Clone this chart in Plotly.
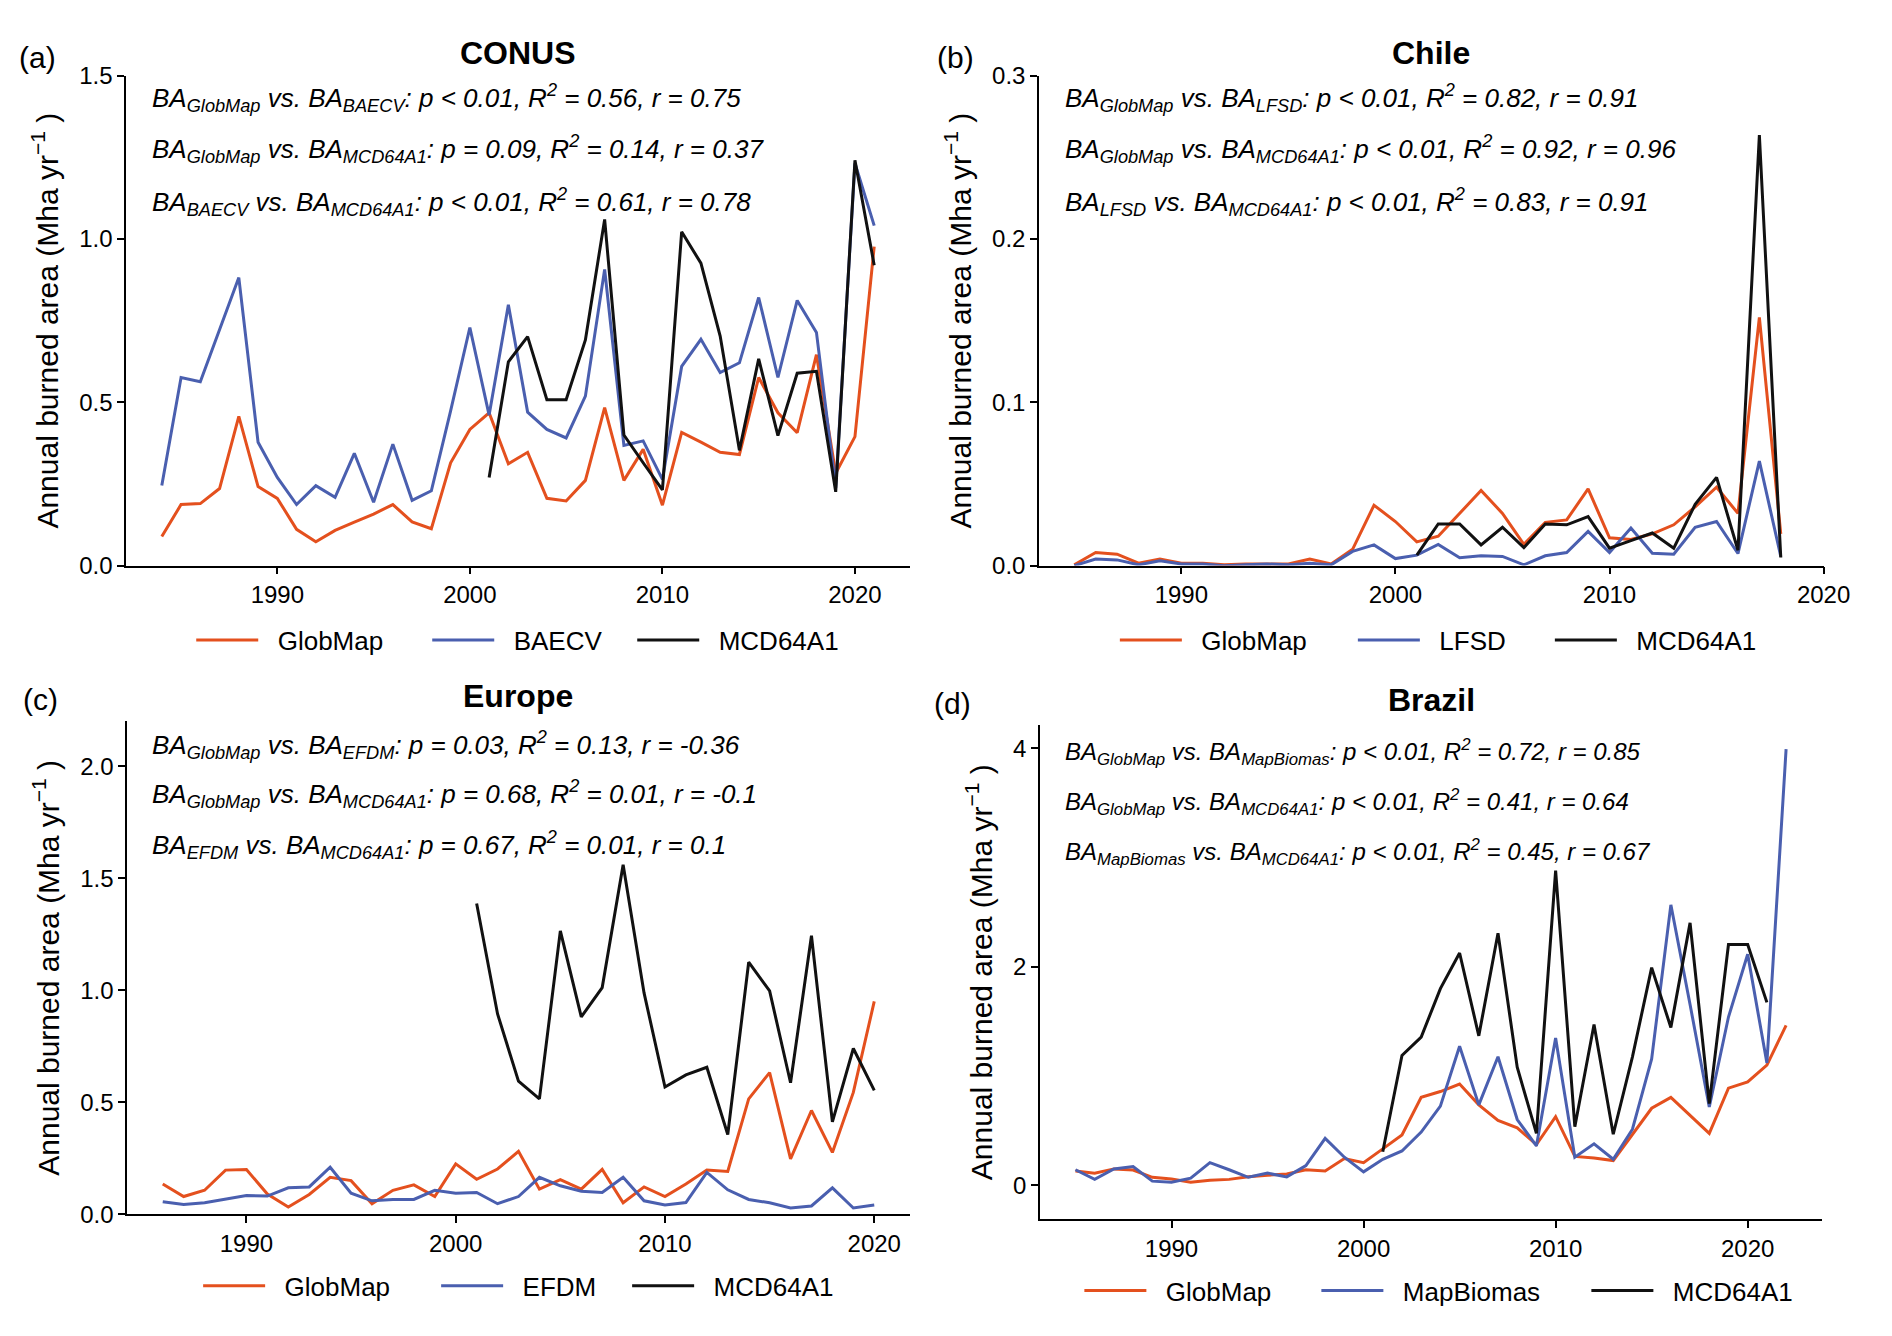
import plotly.graph_objects as go
from plotly.subplots import make_subplots

# ---- data ----
conus_years = list(range(1984, 2022))
conus_globmap = [0.089, 0.187, 0.19, 0.236, 0.457, 0.242, 0.206, 0.111, 0.073, 0.108,
                 0.133, 0.158, 0.187, 0.134, 0.113, 0.315, 0.417, 0.468, 0.312, 0.347,
                 0.206, 0.198, 0.261, 0.484, 0.261, 0.356, 0.185, 0.408, 0.378, 0.347,
                 0.340, 0.576, 0.468, 0.407, 0.646, 0.283, 0.395, 0.977]
conus_baecv = [0.245, 0.576, 0.563, 0.723, 0.882, 0.378, 0.270, 0.187, 0.245, 0.209,
               0.344, 0.194, 0.372, 0.200, 0.229, 0.474, 0.729, 0.461, 0.799, 0.470,
               0.417, 0.391, 0.519, 0.907, 0.368, 0.382, 0.264, 0.610, 0.693, 0.591,
               0.621, 0.821, 0.576, 0.812, 0.714, 0.238, 1.232, 1.041]
conus_mcd_years = list(range(2001, 2022))
conus_mcd = [0.270, 0.624, 0.701, 0.508, 0.508, 0.691, 1.060, 0.400, 0.315, 0.232,
             1.022, 0.926, 0.703, 0.353, 0.633, 0.398, 0.589, 0.595, 0.226, 1.241, 0.920]

chile_years = list(range(1985, 2019))
chile_globmap = [0.0005, 0.008, 0.007, 0.0015, 0.004, 0.0015, 0.0015, 0.0005, 0.001, 0.001,
                 0.001, 0.004, 0.001, 0.010, 0.037, 0.027, 0.0145, 0.018, 0.032, 0.046,
                 0.032, 0.013, 0.0265, 0.028, 0.047, 0.017, 0.016, 0.0195, 0.025, 0.036,
                 0.048, 0.032, 0.152, 0.0195]
chile_lfsd = [0.0, 0.004, 0.0035, 0.0005, 0.003, 0.001, 0.001, 0.0, 0.0005, 0.001,
              0.0005, 0.0015, 0.0005, 0.0087, 0.0127, 0.0043, 0.0064, 0.013, 0.0048, 0.006,
              0.0056, 0.0005, 0.006, 0.008, 0.021, 0.008, 0.023, 0.0076, 0.007, 0.0235,
              0.027, 0.0074, 0.064, 0.0056]
chile_mcd_years = list(range(2001, 2019))
chile_mcd = [0.0064, 0.0255, 0.0255, 0.0127, 0.0235, 0.011, 0.0255, 0.025, 0.030, 0.0107,
             0.0153, 0.020, 0.0107, 0.0375, 0.054, 0.0094, 0.2636, 0.005]

europe_years = list(range(1986, 2021))
europe_globmap = [0.135, 0.079, 0.107, 0.197, 0.2, 0.09, 0.032, 0.088, 0.165, 0.15,
                  0.047, 0.107, 0.131, 0.079, 0.225, 0.156, 0.202, 0.281, 0.112, 0.154,
                  0.112, 0.2, 0.051, 0.122, 0.079, 0.135, 0.197, 0.191, 0.515, 0.632,
                  0.247, 0.463, 0.276, 0.544, 0.950]
europe_efdm = [0.056, 0.043, 0.051, 0.066, 0.084, 0.081, 0.118, 0.122, 0.21, 0.094,
               0.06, 0.066, 0.066, 0.107, 0.094, 0.097, 0.047, 0.079, 0.165, 0.127,
               0.103, 0.097, 0.165, 0.06, 0.041, 0.052, 0.187, 0.109, 0.066, 0.051,
               0.028, 0.037, 0.118, 0.028, 0.041]
europe_mcd_years = list(range(2001, 2021))
europe_mcd = [1.387, 0.894, 0.594, 0.515, 1.265, 0.881, 1.012, 1.56, 0.988, 0.568,
              0.622, 0.656, 0.356, 1.125, 0.997, 0.587, 1.243, 0.412, 0.74, 0.553]

brazil_years = list(range(1985, 2023))
brazil_globmap = [0.13, 0.11, 0.15, 0.14, 0.073, 0.057, 0.027, 0.046, 0.054, 0.077,
                  0.092, 0.103, 0.142, 0.13, 0.245, 0.207, 0.333, 0.46, 0.805, 0.858,
                  0.927, 0.736, 0.594, 0.525, 0.372, 0.628, 0.264, 0.249, 0.226, 0.467,
                  0.705, 0.805, 0.64, 0.475, 0.889, 0.946, 1.1, 1.464]
brazil_mapbiomas = [0.142, 0.054, 0.15, 0.172, 0.038, 0.027, 0.065, 0.207, 0.142, 0.073,
                    0.111, 0.077, 0.18, 0.429, 0.257, 0.123, 0.238, 0.314, 0.487, 0.724,
                    1.272, 0.736, 1.176, 0.602, 0.36, 1.349, 0.257, 0.379, 0.238, 0.513,
                    1.157, 2.567, 1.655, 0.716, 1.54, 2.115, 1.119, 3.992]
brazil_mcd_years = list(range(2001, 2022))
brazil_mcd = [0.307, 1.188, 1.356, 1.8, 2.126, 1.368, 2.307, 1.08, 0.475, 2.881,
              0.536, 1.471, 0.467, 1.176, 1.992, 1.444, 2.402, 0.747, 2.203, 2.203, 1.674]

titles = ["CONUS", "Chile", "Europe", "Brazil"]
panel_tags = ["(a)", "(b)", "(c)", "(d)"]
stats_text = [
    ["BA<sub>GlobMap</sub> vs. BA<sub>BAECV</sub>: p &lt; 0.01, R<sup>2</sup> = 0.56, r = 0.75",
     "BA<sub>GlobMap</sub> vs. BA<sub>MCD64A1</sub>: p = 0.09, R<sup>2</sup> = 0.14, r = 0.37",
     "BA<sub>BAECV</sub> vs. BA<sub>MCD64A1</sub>: p &lt; 0.01, R<sup>2</sup> = 0.61, r = 0.78"],
    ["BA<sub>GlobMap</sub> vs. BA<sub>LFSD</sub>: p &lt; 0.01, R<sup>2</sup> = 0.82, r = 0.91",
     "BA<sub>GlobMap</sub> vs. BA<sub>MCD64A1</sub>: p &lt; 0.01, R<sup>2</sup> = 0.92, r = 0.96",
     "BA<sub>LFSD</sub> vs. BA<sub>MCD64A1</sub>: p &lt; 0.01, R<sup>2</sup> = 0.83, r = 0.91"],
    ["BA<sub>GlobMap</sub> vs. BA<sub>EFDM</sub>: p = 0.03, R<sup>2</sup> = 0.13, r = -0.36",
     "BA<sub>GlobMap</sub> vs. BA<sub>MCD64A1</sub>: p = 0.68, R<sup>2</sup> = 0.01, r = -0.1",
     "BA<sub>EFDM</sub> vs. BA<sub>MCD64A1</sub>: p = 0.67, R<sup>2</sup> = 0.01, r = 0.1"],
    ["BA<sub>GlobMap</sub> vs. BA<sub>MapBiomas</sub>: p &lt; 0.01, R<sup>2</sup> = 0.72, r = 0.85",
     "BA<sub>GlobMap</sub> vs. BA<sub>MCD64A1</sub>: p &lt; 0.01, R<sup>2</sup> = 0.41, r = 0.64",
     "BA<sub>MapBiomas</sub> vs. BA<sub>MCD64A1</sub>: p &lt; 0.01, R<sup>2</sup> = 0.45, r = 0.67"],
]

ORANGE = "#E4501E"
BLUE = "#4A5FAF"
BLACK = "#111111"
FONT = "Liberation Sans"
W, H = 1892, 1336
NB = "\u00a0\u00a0"  # small gap between legend line and label

panels = [
    # (years, globmap, ref name, ref values, mcd years, mcd values)
    (conus_years, conus_globmap, "BAECV", conus_baecv, conus_mcd_years, conus_mcd),
    (chile_years, chile_globmap, "LFSD", chile_lfsd, chile_mcd_years, chile_mcd),
    (europe_years, europe_globmap, "EFDM", europe_efdm, europe_mcd_years, europe_mcd),
    (brazil_years, brazil_globmap, "MapBiomas", brazil_mapbiomas, brazil_mcd_years, brazil_mcd),
]

# layout in pixels: (x0, x1, ytop, ybottom)
boxes = [(128, 923, 63, 563), (1054, 1850, 63, 563),
         (129, 923, 722, 1225), (1055, 1848, 726, 1230)]
xranges = [[1982.15, 2022.85], [1983.35, 2020], [1984.3, 2021.7], [1983.15, 2023.85]]
yranges = [[0, 1.5], [0, 0.3], [0, 2.2], [-0.31, 4.21]]
ydticks = [0.5, 0.1, 0.5, 2]
yformats = [".1f", ".1f", ".1f", "d"]
title_pos = [(526, 40), (1452, 40), (526, 696), (1452, 700)]
tag_pos = [(38, 44), (969, 44), (41, 700), (966, 704)]
stat_x = [152, 1078, 152, 1078]
stat_y = [[86, 138, 192], [86, 138, 192], [746, 796, 848], [753, 804, 855]]
stat_size = [26, 26, 26, 24]
legend_pos = [(194, 639), (1131, 639), (201, 1298), (1095, 1303)]
legend_widths = [(159, 128), (161, 120), (161, 114), (160, 193)]

fig = make_subplots(rows=2, cols=2)

for i, (yrs, gm, ref_name, ref_vals, mcd_yrs, mcd_vals) in enumerate(panels):
    row, col = i // 2 + 1, i % 2 + 1
    leg = "legend" if i == 0 else f"legend{i + 1}"
    w1, w2 = legend_widths[i]
    fig.add_trace(go.Scatter(x=yrs, y=gm, mode="lines", name=NB + "GlobMap",
                             line=dict(color=ORANGE, width=3), legend=leg,
                             legendwidth=w1), row=row, col=col)
    fig.add_trace(go.Scatter(x=yrs, y=ref_vals, mode="lines", name=NB + ref_name,
                             line=dict(color=BLUE, width=3), legend=leg,
                             legendwidth=w2), row=row, col=col)
    fig.add_trace(go.Scatter(x=mcd_yrs, y=mcd_vals, mode="lines", name=NB + "MCD64A1",
                             line=dict(color=BLACK, width=3), legend=leg), row=row, col=col)

layout_updates = {}
for i in range(4):
    x0, x1, yt, yb = boxes[i]
    sfx = "" if i == 0 else str(i + 1)
    layout_updates[f"xaxis{sfx}"] = dict(
        domain=[x0 / W, x1 / W], range=xranges[i], tickvals=[1990, 2000, 2010, 2020],
        showline=True, linecolor="black", linewidth=1.5, ticks="outside", ticklen=7,
        tickwidth=1.5, tickcolor="black", showgrid=False, zeroline=False,
        tickfont=dict(family=FONT, size=24, color="black"))
    layout_updates[f"yaxis{sfx}"] = dict(
        domain=[1 - yb / H, 1 - yt / H], range=yranges[i], dtick=ydticks[i], tick0=0,
        tickformat=yformats[i],
        showline=True, linecolor="black", linewidth=1.5, ticks="outside", ticklen=7,
        tickwidth=1.5, tickcolor="black", showgrid=False, zeroline=False,
        tickfont=dict(family=FONT, size=24, color="black"),
        title=dict(text="Annual burned area (Mha yr<sup>−1</sup> )", standoff=12,
                   font=dict(family=FONT, size=30, color="black")))
    lx, ly = legend_pos[i]
    layout_updates["legend" if i == 0 else f"legend{i + 1}"] = dict(
        orientation="h", x=lx / W, y=1 - ly / H, xanchor="left", yanchor="middle",
        font=dict(family=FONT, size=26, color="black"), bgcolor="rgba(0,0,0,0)",
        itemwidth=62)

fig.update_layout(**layout_updates)

annotations = []
for i in range(4):
    tx, ty = title_pos[i]
    annotations.append(dict(text=f"<b>{titles[i]}</b>", x=tx / W, y=1 - ty / H, xref="paper",
                            yref="paper", showarrow=False, xanchor="center", yanchor="middle",
                            font=dict(family=FONT, size=32, color="black")))
    gx, gy = tag_pos[i]
    annotations.append(dict(text=panel_tags[i], x=gx / W, y=1 - gy / H, xref="paper",
                            yref="paper", showarrow=False, xanchor="center", yanchor="middle",
                            font=dict(family=FONT, size=30, color="black")))
    for line, sy in zip(stats_text[i], stat_y[i]):
        annotations.append(dict(text=f"<i>{line}</i>", x=stat_x[i] / W, y=1 - sy / H,
                                xref="paper", yref="paper", showarrow=False,
                                xanchor="left", yanchor="middle",
                                font=dict(family=FONT, size=stat_size[i], color="black")))

fig.update_layout(
    width=W, height=H, margin=dict(l=0, r=0, t=0, b=0),
    paper_bgcolor="white", plot_bgcolor="white",
    font=dict(family=FONT, color="black"),
    annotations=annotations,
)

# drop the default page margin so the figure fills the window exactly
fig.write_html("out.html", config={"displayModeBar": False},
               post_script="document.body.style.margin='0';document.body.style.overflow='hidden';")
